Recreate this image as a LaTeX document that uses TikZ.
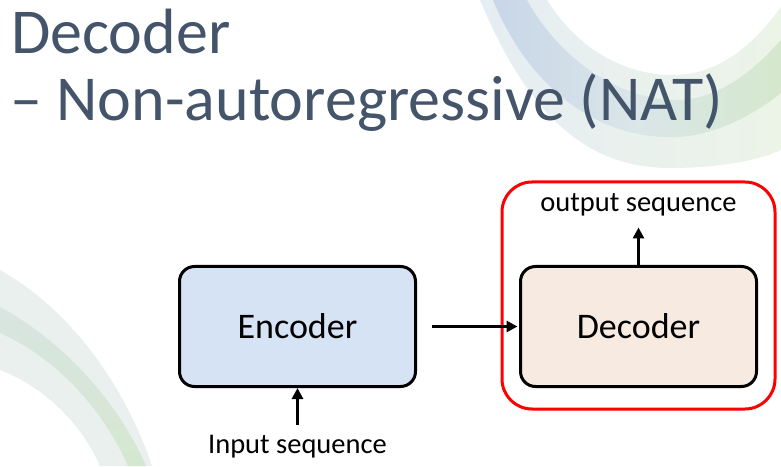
\documentclass[tikz,border=0pt]{standalone}
\usepackage{fontspec}
\setmainfont{Carlito}
\usepackage{xcolor}
\usetikzlibrary{arrows.meta,positioning}
\definecolor{titleslate}{RGB}{68,84,106}
\definecolor{encoderblue}{RGB}{213,227,245}
\definecolor{decoderpeach}{RGB}{246,234,225}
\definecolor{natred}{RGB}{255,0,0}
\definecolor{swooshpaleblue}{RGB}{230,237,243}
\definecolor{swooshpalegreen}{RGB}{236,244,232}
\definecolor{swooshblue}{RGB}{200,214,232}
\definecolor{swooshmid}{RGB}{218,230,232}
\definecolor{swooshgreen}{RGB}{213,232,205}
\definecolor{swooshgray}{RGB}{233,240,238}
\definecolor{swooshsage}{RGB}{216,229,225}
\definecolor{swooshmoss}{RGB}{214,231,208}

\begin{document}
\begin{tikzpicture}[
    x=1pt, y=1pt,
    title/.style={anchor=base west, inner sep=0pt, text=titleslate, font=\fontsize{64}{70}\selectfont},
    block/.style={rectangle, draw, line width=3pt, rounded corners=15pt, minimum width=236pt, minimum height=120pt, font=\fontsize{36}{40}\selectfont},
    caption/.style={inner sep=0pt, font=\fontsize{28.5}{32}\selectfont},
    frame/.style={rectangle, draw=natred, line width=3pt, rounded corners=30pt, minimum width=273pt, minimum height=227pt},
    arrow/.style={line width=3pt, -{Triangle[length=11pt,width=11pt]}}
]
\useasboundingbox (0,0) rectangle (781,466);
\fill[white] (0,0) rectangle (781,466);

% background swooshes (drawn in pixel coordinates, y down)
\begin{scope}[yshift=466pt, yscale=-1]
\shade[left color=swooshpaleblue, right color=swooshpalegreen]
    (480,0) .. controls (530,120) and (590,168) .. (670,168) .. controls (720,168) and (760,160) .. (781,150)
    -- (781,7) .. controls (750,50) and (715,75) .. (673,75) .. controls (620,75) and (575,45) .. (547,0) -- cycle;
\shade[left color=swooshblue, right color=swooshgreen, middle color=swooshmid]
    (493,0) .. controls (530,90) and (600,140) .. (677,137) .. controls (720,135) and (760,110) .. (781,93)
    -- (781,40) .. controls (750,75) and (715,100) .. (677,100) .. controls (620,100) and (560,60) .. (527,0) -- cycle;
\fill[swooshgray]
    (0,270) .. controls (80,315) and (130,400) .. (152,466) -- (100,466) .. controls (80,420) and (40,385) .. (0,370) -- cycle;
\shade[top color=swooshsage, bottom color=swooshmoss]
    (0,307) .. controls (70,345) and (122,410) .. (146,466) -- (128,466) .. controls (104,412) and (60,360) .. (0,333) -- cycle;
\end{scope}

% title
\node[title] (title) at (11,412) {Decoder};
\node[title] (subtitle) at (10,345) {– Non-autoregressive (NAT)};

% diagram
\node[block, fill=encoderblue] (encoder) at (297.5,139.5) {Encoder};
\node[block, fill=decoderpeach, right=102pt of encoder] (decoder) {Decoder};
\node[caption, below=47.5pt of encoder] (input) {Input sequence};
\node[caption, above=49pt of decoder] (output) {output sequence};
\node[frame] (natframe) at ([yshift=31pt]decoder.center) {};

\draw[arrow, shorten <=11pt] (input) -- (encoder);
\draw[arrow, shorten <=14.5pt, shorten >=1.5pt] (encoder) -- (decoder);
\draw[arrow, shorten >=11.5pt] (decoder) -- (output);

\end{tikzpicture}
\end{document}
